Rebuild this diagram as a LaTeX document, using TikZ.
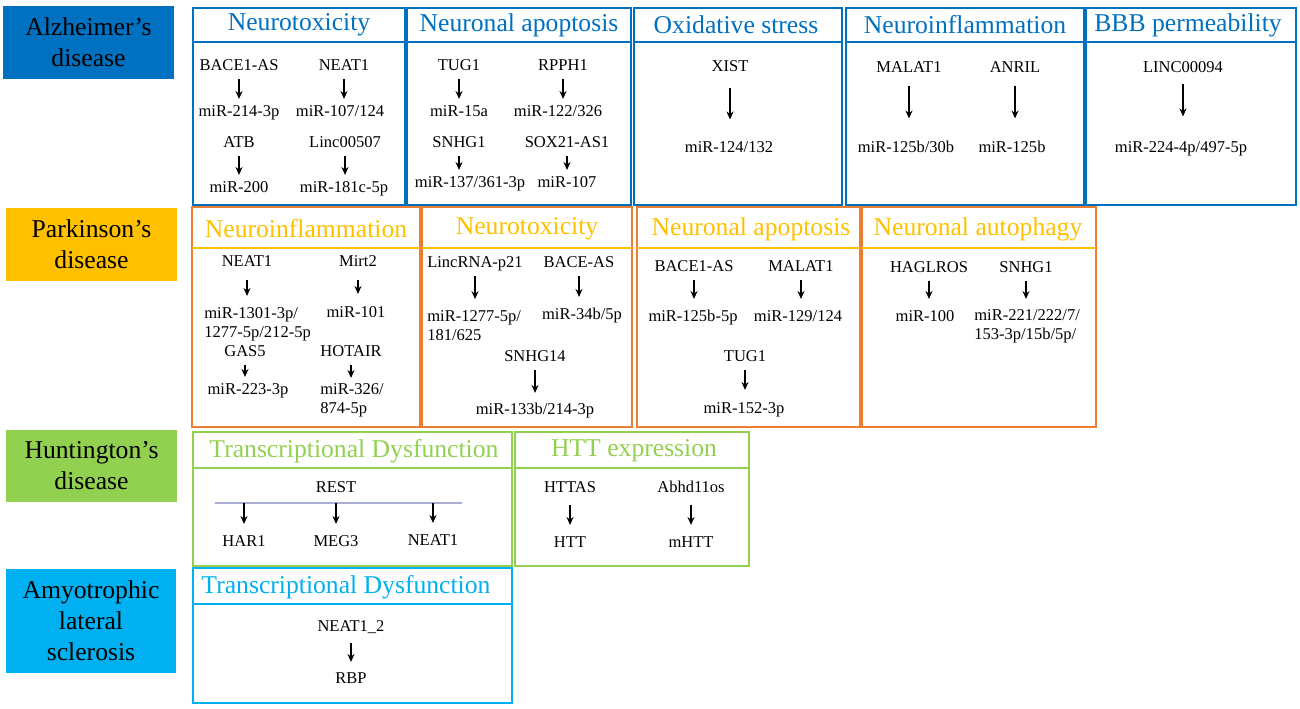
\documentclass[tikz,border=0pt]{standalone}
\usepackage{fontspec}
\setmainfont{Liberation Serif}
\usepackage{tikz}
\usetikzlibrary{arrows.meta,positioning,fit,calc}

\definecolor{adblue}{HTML}{0070C0}
\definecolor{pdgold}{HTML}{FFC000}
\definecolor{pdorange}{HTML}{ED7D31}
\definecolor{hdgreen}{HTML}{92D050}
\definecolor{alsblue}{HTML}{00B0F0}
\definecolor{restline}{RGB}{170,172,212}

\begin{document}
\begin{tikzpicture}[
    x=0.02cm, y=-0.02cm,
    disease/.style={rectangle, minimum width=3.42cm, minimum height=1.46cm, align=center, font=\fontsize{14.6}{17.6}\selectfont},
    panel/.style={rectangle, draw, line width=1.1pt, inner sep=0pt},
    head/.style={font=\fontsize{14.6}{17}\selectfont, inner sep=0pt},
    gene/.style={font=\fontsize{9.4}{10.8}\selectfont, inner sep=0.1cm, text height=0.68em, text depth=0.2em},
    genes/.style={font=\fontsize{9.4}{10.8}\selectfont, inner sep=0.1cm, align=left, anchor=west},
    arrow/.style={->, line width=0.75pt, >={Stealth[length=4.5pt, width=4pt]}}
]
\useasboundingbox (0,0) rectangle (1300,709);

% Alzheimer's disease
\node[disease, fill=adblue] (ad) at (88.5,42.5) {Alzheimer's\\disease};
\node[panel, draw=adblue, fit={(193,8) (405,205)}] (ad1) {};
\node[panel, draw=adblue, fit={(407,8) (631,205)}] (ad2) {};
\node[panel, draw=adblue, fit={(634,8) (842,205)}] (ad3) {};
\node[panel, draw=adblue, fit={(846,8) (1084,205)}] (ad4) {};
\node[panel, draw=adblue, fit={(1086,8) (1296,205)}] (ad5) {};
\coordinate (adhl) at (0,42);
\foreach \p in {ad1,ad2,ad3,ad4,ad5} {
    \draw[adblue, line width=1.1pt] (\p.west |- adhl) -- (\p.east |- adhl);
}
\node[head, text=adblue] (ad1t) at (299,25) {Neurotoxicity};
\node[head, text=adblue] (ad2t) at (519,25) {Neuronal apoptosis};
\node[head, text=adblue] (ad3t) at (736,25) {Oxidative stress};
\node[head, text=adblue] (ad4t) at (965,25) {Neuroinflammation};
\node[head, text=adblue] (ad5t) at (1188,25) {BBB permeability};

\node[gene] (bace1a) at (239,66) {BACE1-AS};
\node[gene] (neat1a) at (344,66) {NEAT1};
\node[gene] (m214) at (239,112) {miR-214-3p};
\node[gene] (m107a) at (340,112) {miR-107/124};
\node[gene] (atb) at (239,143) {ATB};
\node[gene] (linc507) at (345,143) {Linc00507};
\node[gene] (m200) at (239,188) {miR-200};
\node[gene] (m181) at (344,188) {miR-181c-5p};

\node[gene] (tug1a) at (459,66) {TUG1};
\node[gene] (rpph1) at (563,66) {RPPH1};
\node[gene] (m15a) at (459,112) {miR-15a};
\node[gene] (m122) at (558,112) {miR-122/326};
\node[gene] (snhg1a) at (459,143) {SNHG1};
\node[gene] (sox21) at (567,143) {SOX21-AS1};
\node[gene] (m137) at (470,183) {miR-137/361-3p};
\node[gene] (m107b) at (567,183) {miR-107};

\node[gene] (xist) at (730,67) {XIST};
\node[gene] (m124) at (729,148) {miR-124/132};

\node[gene] (malat1a) at (909,68) {MALAT1};
\node[gene] (anril) at (1015,68) {ANRIL};
\node[gene] (m125a) at (906,148) {miR-125b/30b};
\node[gene] (m125b) at (1012,148) {miR-125b};

\node[gene] (linc94) at (1183,68) {LINC00094};
\node[gene] (m224) at (1181,148) {miR-224-4p/497-5p};

\draw[arrow] (bace1a) -- (bace1a |- m214.north);
\draw[arrow] (neat1a) -- (neat1a |- m107a.north);
\draw[arrow] (atb) -- (atb |- m200.north);
\draw[arrow] (linc507) -- (linc507 |- m181.north);
\draw[arrow] (tug1a) -- (tug1a |- m15a.north);
\draw[arrow] (rpph1) -- (rpph1 |- m122.north);
\draw[arrow] (snhg1a) -- (snhg1a |- m137.north);
\draw[arrow] (sox21) -- (sox21 |- m107b.north);
\draw[arrow, shorten <=0.15cm, shorten >=0.31cm] (xist) -- (xist |- m124.north);
\draw[arrow, shorten <=0.09cm, shorten >=0.33cm] (malat1a) -- (malat1a |- m125a.north);
\draw[arrow, shorten <=0.09cm, shorten >=0.33cm] (anril) -- (anril |- m125b.north);
\draw[arrow, shorten <=0.05cm, shorten >=0.37cm] (linc94) -- (linc94 |- m224.north);

% Parkinson's disease
\node[disease, fill=pdgold] (pd) at (91.5,244.5) {Parkinson's\\disease};
\node[panel, draw=pdorange, fit={(192,207) (420,427)}] (pd1) {};
\node[panel, draw=pdorange, fit={(422,207) (632,427)}] (pd2) {};
\node[panel, draw=pdorange, fit={(637,207) (860,427)}] (pd3) {};
\node[panel, draw=pdorange, fit={(862,207) (1096,427)}] (pd4) {};
\coordinate (pdhl) at (0,248);
\foreach \p in {pd1,pd2,pd3,pd4} {
    \draw[pdgold, line width=1.1pt] ([xshift=0.55pt]\p.west |- pdhl) -- ([xshift=-0.55pt]\p.east |- pdhl);
}
\node[head, text=pdgold] (pd1t) at (306,229) {Neuroinflammation};
\node[head, text=pdgold] (pd2t) at (527,229) {Neurotoxicity};
\node[head, text=pdgold] (pd3t) at (751,229) {Neuronal apoptosis};
\node[head, text=pdgold] (pd4t) at (978,229) {Neuronal autophagy};

\node[gene] (neat1b) at (247,262) {NEAT1};
\node[gene] (mirt2) at (358,262) {Mirt2};
\node[genes] (m1301) at (199,324) {miR-1301-3p/\\1277-5p/212-5p};
\node[gene] (m101) at (356,313) {miR-101};
\node[gene] (gas5) at (245,352) {GAS5};
\node[gene] (hotair) at (351,352) {HOTAIR};
\node[gene] (m223) at (248,390) {miR-223-3p};
\node[genes] (m326) at (315,400) {miR-326/\\874-5p};

\node[gene] (lincp21) at (475,263) {LincRNA-p21};
\node[gene] (baceas) at (579,263) {BACE-AS};
\node[genes] (m1277) at (422,326) {miR-1277-5p/\\181/625};
\node[gene] (m34b) at (582,315) {miR-34b/5p};
\node[gene] (snhg14) at (535,357) {SNHG14};
\node[gene] (m133) at (535,410) {miR-133b/214-3p};

\node[gene] (bace1b) at (694,267) {BACE1-AS};
\node[gene] (malat1b) at (801,267) {MALAT1};
\node[gene] (m125c) at (693,317) {miR-125b-5p};
\node[gene] (m129) at (798,317) {miR-129/124};
\node[gene] (tug1b) at (745,357) {TUG1};
\node[gene] (m152) at (744,409) {miR-152-3p};

\node[gene] (haglros) at (929,268) {HAGLROS};
\node[gene] (snhg1b) at (1026,268) {SNHG1};
\node[gene] (m100) at (925,317) {miR-100};
\node[genes] (m221) at (969,326) {miR-221/222/7/\\153-3p/15b/5p/};

\draw[arrow, shorten <=0.1cm, shorten >=0.12cm] (neat1b) -- (neat1b |- m1301.north);
\draw[arrow, shorten <=0.1cm, shorten >=0.12cm] (mirt2) -- (mirt2 |- m101.north);
\draw[arrow] (gas5) -- (gas5 |- m223.north);
\draw[arrow] (hotair) -- (hotair |- m326.north);
\draw[arrow, shorten >=0.13cm] (lincp21) -- (lincp21 |- m1277.north);
\draw[arrow, shorten >=0.1cm] (baceas) -- (baceas |- m34b.north);
\draw[arrow, shorten >=0.08cm] (snhg14) -- (snhg14 |- m133.north);
\draw[arrow, shorten >=0.1cm] (bace1b) -- (bace1b |- m125c.north);
\draw[arrow, shorten >=0.1cm] (malat1b) -- (malat1b |- m129.north);
\draw[arrow, shorten >=0.12cm] (tug1b) -- (tug1b |- m152.north);
\draw[arrow, shorten >=0.1cm] (haglros) -- (haglros |- m100.north);
\draw[arrow, shorten >=0.1cm] (snhg1b) -- (snhg1b |- m221.north);

% Huntington's disease
\node[disease, fill=hdgreen] (hd) at (91.5,466) {Huntington's\\disease};
\node[panel, draw=hdgreen, fit={(193,432) (512,566)}] (hd1) {};
\node[panel, draw=hdgreen, fit={(515,432) (749,566)}] (hd2) {};
\coordinate (hdhl) at (0,468);
\foreach \p in {hd1,hd2} {
    \draw[hdgreen, line width=1.1pt] (\p.west |- hdhl) -- (\p.east |- hdhl);
}
\node[head, text=hdgreen] (hd1t) at (354,451) {Transcriptional Dysfunction};
\node[head, text=hdgreen] (hd2t) at (634,451) {HTT expression};

\node[gene] (rest) at (336,488) {REST};
\node[gene] (har1) at (244,542) {HAR1};
\node[gene] (meg3) at (336,542) {MEG3};
\node[gene] (neat1c) at (433,541) {NEAT1};
\coordinate (restL) at (215,503);
\coordinate (restR) at (462,503);
\draw[restline, line width=1pt] (restL) -- (restR);
\foreach \t in {har1,meg3,neat1c} {
    \draw[arrow, shorten >=0.1cm] (\t |- restL) -- (\t);
}

\node[gene] (httas) at (570,488) {HTTAS};
\node[gene] (abhd) at (691,488) {Abhd11os};
\node[gene] (htt) at (570,543) {HTT};
\node[gene] (mhtt) at (691,543) {mHTT};
\draw[arrow, shorten <=0.07cm, shorten >=0.1cm] (httas) -- (httas |- htt.north);
\draw[arrow, shorten <=0.07cm, shorten >=0.1cm] (abhd) -- (abhd |- mhtt.north);

% Amyotrophic lateral sclerosis
\node[disease, fill=alsblue, minimum height=2.08cm] (als) at (91,621) {Amyotrophic\\lateral\\sclerosis};
\node[panel, draw=alsblue, fit={(193,568) (512,703)}] (als1) {};
\coordinate (alshl) at (0,604);
\draw[alsblue, line width=1.1pt] (als1.west |- alshl) -- (als1.east |- alshl);
\node[head, text=alsblue] (als1t) at (346,587) {Transcriptional Dysfunction};

\node[gene] (neat12) at (351,627) {NEAT1\_2};
\node[gene] (rbp) at (351,679) {RBP};
\draw[arrow, shorten <=0.05cm, shorten >=0.08cm] (neat12) -- (neat12 |- rbp.north);

\end{tikzpicture}
\end{document}
